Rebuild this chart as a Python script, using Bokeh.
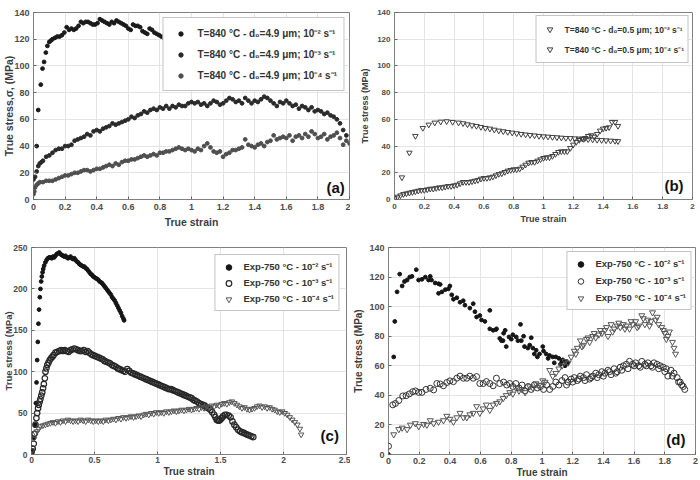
from bokeh.plotting import figure
from bokeh.layouts import column, row
from bokeh.models import Range1d, FixedTicker, NumeralTickFormatter, Label
from bokeh.embed import file_html
from bokeh.resources import INLINE

FONT = "Liberation Sans"

# ---------------- Panel (a): T=840 C, d0=4.9 um ----------------
a1_strain = [0.02,0.03,0.046,0.057,0.067,0.078,0.088,0.10,0.11,0.12,
             0.135,0.15,0.165,0.18,0.195,0.21,0.225,0.24,0.255,0.27,
             0.285,0.30,0.315,0.33,0.345,0.36,0.375,0.39,0.405,0.42,
             0.435,0.45,0.465,0.48,0.495,0.51,0.525,0.54,0.555,0.57,
             0.585,0.60,0.615,0.63,0.645,0.66,0.675,0.69,0.705,0.72,
             0.735,0.75,0.765,0.78,0.795,0.81,0.825,0.84,0.86,0.88,
             0.90,0.92,0.94]
a1_stress = [40,67,86,98,103,110,115,118,119,120,
             121,122,122,123,125,129,127,128,127,128,
             130,133,132,133,133,132,131,131,132,135,
             134,133,132,131,133,132,134,133,132,131,
             130,128,127,131,130,130,129,126,125,124,
             128,127,125,124,123,122,121,122,120,119,
             118,117,116]

a2_strain = [0.00,0.01,0.02,0.03,0.04,0.05,0.06,
             0.08,0.10,0.12,0.14,0.16,0.18,0.20,0.22,0.24,0.26,
             0.28,0.30,0.32,0.34,0.36,0.38,0.40,0.42,0.44,0.46,
             0.48,0.50,0.52,0.54,0.56,0.58,0.60,0.62,0.64,0.66,
             0.68,0.70,0.72,0.74,0.76,0.78,0.80,0.82,0.84,0.86,
             0.88,0.90,0.92,0.94,0.96,0.98,1.00,1.02,1.04,1.06,
             1.08,1.10,1.12,1.14,1.16,1.18,1.20,1.22,1.24,1.26,
             1.28,1.30,1.32,1.34,1.36,1.38,1.40,1.42,1.44,1.46,
             1.48,1.50,1.52,1.54,1.56,1.58,1.60,1.62,1.64,1.66,
             1.68,1.70,1.72,1.74,1.76,1.78,1.80,1.82,1.84,1.86,
             1.88,1.90,1.92,1.94,1.96,1.98]
a2_stress = [15,17,21,25,27,28,29,
             32,33,35,37,38,38,40,40,41,44,
             45,46,47,49,48,51,52,51,53,54,
             55,57,56,57,58,59,60,62,61,63,
             64,66,65,67,68,67,69,68,70,68,
             70,69,71,70,70,72,73,72,73,71,
             72,70,72,74,73,71,72,74,76,75,
             73,74,72,76,74,72,74,73,75,77,
             76,74,72,70,73,72,74,72,70,71,
             68,70,69,67,69,66,67,66,64,65,
             63,62,60,57,52,48]

a3_strain = [0.00,0.005,0.01,0.02,0.03,0.04,
             0.06,0.08,0.10,0.12,0.14,0.16,0.18,0.20,0.22,0.24,
             0.26,0.28,0.30,0.32,0.34,0.36,0.38,0.40,0.42,0.44,
             0.46,0.48,0.50,0.52,0.54,0.56,0.58,0.60,0.62,0.64,
             0.66,0.68,0.70,0.72,0.74,0.76,0.78,0.80,0.82,0.84,
             0.86,0.88,0.90,0.92,0.94,0.96,0.98,1.00,1.02,1.04,
             1.06,1.08,1.10,1.12,1.14,1.16,1.18,1.20,1.22,1.24,
             1.26,1.28,1.30,1.32,1.34,1.36,1.38,1.40,1.42,1.44,
             1.46,1.48,1.50,1.52,1.54,1.56,1.58,1.60,1.62,1.64,
             1.66,1.68,1.70,1.72,1.74,1.76,1.78,1.80,1.82,1.84,
             1.86,1.88,1.90,1.92,1.94,1.96,1.98,2.00]
a3_stress = [4,6,9,11,12,13,
             13,14,14,14,15,16,17,18,18,19,
             20,20,21,22,22,21,22,23,23,24,
             25,26,25,27,26,28,29,29,30,30,
             31,32,33,32,33,34,33,35,35,36,
             36,37,38,39,38,37,38,37,36,38,
             37,40,42,39,36,35,36,32,34,35,
             37,37,38,39,45,41,40,39,41,42,
             40,43,44,48,45,46,47,46,48,44,
             47,48,46,49,47,51,49,46,47,49,
             45,47,48,50,46,41,44,42]

# ---------------- Panel (b): T=840 C, d0=0.5 um ----------------
b1_strain = [0.05,0.10,0.14,0.19,0.23,0.27,0.31,0.35,0.39,0.43,
             0.46,0.49,0.52,0.55,0.58,0.61,0.64,0.67,0.70,0.73,
             0.76,0.79,0.82,0.85,0.88,0.91,0.94,0.97,1.00,1.03,
             1.06,1.09,1.12,1.15,1.18,1.21,1.24,1.27,1.30,1.33,
             1.36,1.39,1.42,1.45,1.48,1.50]
b1_stress = [16.5,35,47.5,53.5,56,57.5,58.2,58.5,58,57.5,
             57,56.2,55.5,55,54.2,53.5,53,52.2,51.5,51,
             50.5,50,49.5,49,48.6,48.2,47.9,47.5,47.2,47,
             46.7,46.5,46.2,46,45.9,45.7,45.5,45.2,45,44.8,
             44.6,44.4,44.2,44,43.8,43.6]

b2_strain = [0.00,0.02,0.04,0.06,0.08,0.10,0.12,0.14,0.16,0.18,
             0.20,0.22,0.24,0.26,0.28,0.30,0.32,0.34,0.36,0.38,
             0.40,0.42,0.44,0.46,0.48,0.50,0.52,0.54,0.56,0.58,
             0.60,0.62,0.64,0.66,0.68,0.70,0.72,0.74,0.76,0.78,
             0.80,0.82,0.84,0.86,0.88,0.90,0.92,0.94,0.96,0.98,
             1.00,1.02,1.04,1.06,1.08,1.10,1.12,1.14,1.16,1.18,
             1.20,1.22,1.24,1.26,1.28,1.30,1.32,1.34,1.36,1.38,
             1.40,1.42,1.44,1.46,1.48,1.50]
b2_stress = [1,2,3,4,4.5,5,5.5,6,6.5,7,
             7,7.5,8,8,8.5,9,9,9.5,10,10,
             10.5,11,12,13,13,13,13.5,14,14.5,15.5,
             16,16,16.5,17,18,19,19.5,20.5,21.5,22,
             22.5,22.5,23,24.5,26,27.5,28,28,29,30,
             31,31.5,31.5,32.5,34,35.5,36,36,36,38.5,
             41,43,44.5,45.5,46,47.5,48,47,49,51.5,
             53,53.5,54,58,58,55]

# ---------------- Panel (c): Exp-750 C ----------------
c1_strain = [0.005,0.01,0.02,0.03,0.035,0.04,0.045,0.05,0.055,0.06,
             0.066,0.071,0.077,0.082,0.088,0.093,0.10,0.11,0.12,0.13,
             0.14,0.15,0.16,0.17,0.18,0.19,0.20,0.21,0.22,0.23,
             0.24,0.25,0.26,0.27,0.28,0.29,0.30,0.31,0.32,0.33,
             0.34,0.35,0.36,0.37,0.38,0.39,0.40,0.41,0.42,0.43,
             0.44,0.45,0.46,0.47,0.48,0.49,0.50,0.51,0.52,0.53,
             0.54,0.55,0.56,0.57,0.58,0.59,0.60,0.61,0.62,0.63,
             0.64,0.65,0.66,0.67,0.68,0.69,0.70,0.71,0.72,0.73,
             0.735]
c1_stress = [3,5,20,36,62,87,114,136,158,175,
             190,200,209,215,220,224,228,232,235,237,
             238,238,237,239,238,240,242,243,244,242,
             241,240,239,240,238,237,238,239,237,236,
             237,235,233,232,230,229,228,227,227,225,
             224,222,220,218,217,215,214,213,212,211,
             209,208,207,205,203,201,199,197,195,193,
             190,188,186,183,180,177,174,171,167,164,
             162]

c2_strain = [0.0,0.01,0.018,0.025,0.032,0.039,0.045,0.052,0.058,0.065,
             0.071,0.078,0.085,0.092,0.098,0.106,0.111,0.118,0.125,0.135,
             0.145,0.155,0.165,0.175,0.19,0.205,0.22,0.235,0.25,0.265,
             0.28,0.295,0.31,0.325,0.34,0.355,0.37,0.385,0.40,0.415,
             0.43,0.445,0.46,0.475,0.49,0.505,0.52,0.535,0.55,0.565,
             0.58,0.595,0.61,0.625,0.64,0.655,0.67,0.685,0.70,0.715,
             0.73,0.745,0.76,0.775,0.79,0.805,0.82,0.835,0.85,0.865,
             0.88,0.895,0.91,0.925,0.94,0.955,0.97,0.985,1.00,1.015,
             1.03,1.045,1.06,1.075,1.09,1.105,1.12,1.135,1.15,1.165,
             1.18,1.195,1.21,1.225,1.24,1.255,1.27,1.285,1.30,1.315,
             1.33,1.345,1.36,1.375,1.39,1.405,1.42,1.435,1.45,1.46,
             1.47,1.48,1.49,1.50,1.51,1.52,1.535,1.55,1.565,1.58,
             1.595,1.61,1.625,1.64,1.655,1.67,1.685,1.70,1.715,1.73,
             1.745,1.76]
c2_stress = [3,7,13,25,36,44,50,56,60,64,
             67,71,75,80,85,92,100,104,108,111,
             114,116,118,120,123,124,125,126,125,126,
             125,124,126,127,128,127,126,125,125,126,
             124,125,123,121,120,119,118,117,116,115,
             113,112,111,110,108,107,106,104,103,102,
             101,100,103,101,99,98,97,96,95,94,
             93,92,91,90,89,88,87,86,85,84,
             83,82,81,80,79,79,78,77,76,75,
             74,73,72,71,70,69,68,66,65,64,
             62,61,60,59,57,56,54,51,48,45,
             42,41,41,42,44,46,48,48,47,45,
             40,36,33,30,28,27,26,25,24,23,
             22,21]

c3_strain = [0.005,0.018,0.032,0.045,0.058,0.071,0.09,0.11,0.13,0.15,
             0.17,0.19,0.21,0.23,0.25,0.27,0.29,0.31,0.33,0.35,
             0.37,0.39,0.41,0.43,0.45,0.47,0.49,0.51,0.53,0.55,
             0.57,0.59,0.61,0.63,0.65,0.67,0.69,0.71,0.73,0.75,
             0.77,0.79,0.81,0.83,0.85,0.87,0.89,0.91,0.93,0.95,
             0.97,0.99,1.01,1.03,1.05,1.07,1.09,1.11,1.13,1.15,
             1.17,1.19,1.21,1.23,1.25,1.27,1.29,1.31,1.33,1.35,
             1.37,1.39,1.41,1.43,1.45,1.47,1.49,1.51,1.53,1.55,
             1.57,1.59,1.61,1.63,1.65,1.67,1.69,1.71,1.73,1.75,
             1.77,1.79,1.81,1.83,1.85,1.87,1.89,1.91,1.93,1.95,
             1.97,1.99,2.01,2.03,2.05,2.07,2.09,2.11,2.13,2.14]
c3_stress = [5,19,26,28,31,34,35,36,37,38,
             39,38,40,39,41,40,42,41,40,41,
             40,42,41,40,42,41,40,41,40,41,
             40,42,41,42,43,42,44,43,45,44,
             45,46,45,46,47,46,48,49,48,50,
             49,51,50,51,50,52,51,52,53,52,
             53,54,53,54,55,54,55,56,55,57,
             56,58,57,59,58,60,59,61,62,61,
             63,64,62,60,58,56,57,55,54,55,
             56,58,59,57,58,56,57,55,54,52,
             51,52,50,48,45,42,39,36,31,24]

# ---------------- Panel (d): Exp-750 C ----------------
d1_strain = [0.0,0.034,0.041,0.056,0.073,0.089,0.104,0.121,0.138,0.153,
             0.181,0.196,0.218,0.24,0.261,0.272,0.28,0.304,0.326,0.337,
             0.326,0.348,0.37,0.39,0.40,0.412,0.423,0.445,0.466,0.487,
             0.498,0.53,0.552,0.563,0.574,0.595,0.606,0.628,0.66,0.66,
             0.682,0.704,0.725,0.736,0.70,0.746,0.767,0.76,0.785,0.81,
             0.832,0.843,0.86,0.865,0.886,0.908,0.93,0.94,0.962,0.984,
             1.005,1.027,1.049,1.07,1.09,1.11,1.135,1.157,1.167,
             0.75,0.80,0.88,0.92,0.95,0.97,1.01,1.04,1.08,1.12,
             1.15,1.13]
d1_stress = [0,66,90,110,122,114,117,118,120,120.5,
             125,118,118.5,120,118,120.5,118,116,115.5,115,
             109,110,111.5,112,114,108,105,106,103,104,
             101,99,102,96.6,93,94,91,90,97.5,85,
             84,85,78.5,77,84.5,77,73,84,79.5,81,
             79.5,77,88,77,73,72,79,72,70.5,68,
             73,68,67,66,66,65,64,63,62,
             82,78,80,74,68,66,70,65,62,61,
             60,63]

d2_strain = [0.0,0.028,0.045,0.067,0.093,0.115,0.136,0.158,0.176,0.197,
             0.218,0.244,0.272,0.294,0.315,0.337,0.358,0.38,0.40,0.423,
             0.445,0.466,0.488,0.51,0.53,0.552,0.574,0.595,0.617,0.638,
             0.66,0.682,0.703,0.725,0.75,0.77,0.79,0.81,0.83,0.85,
             0.87,0.89,0.91,0.93,0.95,0.97,0.99,1.01,1.03,1.05,
             1.07,1.09,1.11,1.13,1.15,1.17,1.19,1.21,1.23,1.25,
             1.27,1.29,1.31,1.33,1.35,1.37,1.39,1.41,1.43,1.45,
             1.47,1.49,1.51,1.53,1.55,1.57,1.59,1.61,1.63,1.65,
             1.67,1.69,1.71,1.73,1.75,1.77,1.79,1.81,1.82,1.84,
             1.86,1.88,1.90,1.92,1.93,
             1.16,1.20,1.24,1.28,1.32,1.36,1.40,1.44,1.48,1.52,
             1.56,1.60,1.64,1.68,1.72,1.76,1.80,1.85,1.89,1.91]
d2_stress = [5.6,33.6,34.5,36.5,39.6,39.8,41,42.5,43,42,
             42,44,44.8,43.7,48,47.7,46.5,48.7,49.8,49.3,
             51.6,53,51.6,51.6,53,51.6,52.7,48,48,49.3,
             48,46.5,51.6,48,49,47,48,46,48,45,
             47,43,46,44,47,45,46,44,47,44,
             46,49,47,50,52,49,51,52,50,53,
             52,54,51,53,55,54,56,55,57,54,
             58,56,59,60,61,63,61,62,60,63,
             61,62,60,62,61,60,59,58,53,57,
             55,52,49,46,44,
             47,49,51,50,52,52,53,56,55,57,
             58,60,59,60,59,58,56,53,49,47]

d3_strain = [0.034,0.067,0.089,0.121,0.143,0.175,0.197,0.229,0.25,0.272,
             0.294,0.326,0.358,0.38,0.40,0.423,0.445,0.466,0.488,0.51,
             0.53,0.552,0.574,0.595,0.617,0.638,0.66,0.682,0.704,0.725,
             0.747,0.767,0.79,0.81,0.83,0.85,0.87,0.89,0.92,0.94,
             0.96,0.98,1.005,1.02,1.05,1.07,1.09,1.11,1.13,1.15,
             1.17,1.19,1.21,1.23,1.25,1.27,1.29,1.31,1.33,1.35,
             1.37,1.39,1.41,1.43,1.45,1.47,1.49,1.51,1.53,1.55,
             1.57,1.59,1.61,1.63,1.65,1.67,1.69,1.71,1.72,1.74,
             1.76,1.78,1.80,1.82,1.83,1.85,1.86,1.87,
             1.22,1.26,1.30,1.34,1.38,1.42,1.46,1.50,1.54,1.58,
             1.62,1.66,1.70,1.75,1.79,1.81]
d3_stress = [13.5,17,18,17,20,21,19,20.5,20,23,
             21,22,23,26,24,22,25,28,25,25,
             27,28,32.5,28,31,33.6,30,33.6,34.7,35.8,
             38,40,42,41,45,43,44,42,46,45,
             48,47,50,49,57,53,55,58,60,63,
             62,66,70,72,77,74,78,76,80,79,
             81,82,84,80,88,85,87,86,88,87,
             85,88,90,87,94,88,91,90,96,91,
             88,86,82,80,83,76,72,68,
             68,73,79,82,84,86,83,89,85,90,
             86,92,87,93,84,78]

# tick values
ticks_02 = [0,0.2,0.4,0.6,0.8,1,1.2,1.4,1.6,1.8,2]
ticks_140 = [0,20,40,60,80,100,120,140]
ticks_c_x = [0,0.5,1,1.5,2,2.5]
ticks_c_y = [0,50,100,150,200,250]

LEG_A = ["T=840 \u00b0C - d\u2080=4.9 \u03bcm; 10\u207b\u00b2 s\u207b\u00b9",
         "T=840 \u00b0C - d\u2080=4.9 \u03bcm; 10\u207b\u00b3 s\u207b\u00b9",
         "T=840 \u00b0C - d\u2080=4.9 \u03bcm; 10\u207b\u2074 s\u207b\u00b9"]
LEG_B = ["T=840 \u00b0C - d\u2080=0.5 \u03bcm; 10\u207b\u00b2 s\u207b\u00b9",
         "T=840 \u00b0C - d\u2080=0.5 \u03bcm; 10\u207b\u2074 s\u207b\u00b9"]
LEG_E = ["Exp-750 \u00b0C - 10\u207b\u00b2 s\u207b\u00b9",
         "Exp-750 \u00b0C - 10\u207b\u00b3 s\u207b\u00b9",
         "Exp-750 \u00b0C - 10\u207b\u2074 s\u207b\u00b9"]


def make_fig(xr, yr, bl, br, bt, bb):
    p = figure(width=350, height=240,
               min_border_left=bl, min_border_right=br,
               min_border_top=bt, min_border_bottom=bb,
               x_range=Range1d(*xr), y_range=Range1d(*yr),
               output_backend="svg", toolbar_location=None)
    p.background_fill_color = "white"
    p.border_fill_color = "white"
    p.outline_line_color = "#808080"
    p.outline_line_width = 1
    p.outline_line_alpha = 1
    return p


def decorate(p, xticks, yticks, ylabel, tick_size, xlab_size, ylab_size,
             x_std, y_std, xlab_std, ylab_std):
    fmt = NumeralTickFormatter(format="0.[0]")
    p.xaxis.ticker = FixedTicker(ticks=xticks)
    p.yaxis.ticker = FixedTicker(ticks=yticks)
    p.xgrid.ticker = FixedTicker(ticks=xticks)
    p.ygrid.ticker = FixedTicker(ticks=yticks)
    p.grid.grid_line_color = "#e4e4e4"
    p.grid.grid_line_width = 1
    for ax in (p.xaxis[0], p.yaxis[0]):
        ax.formatter = fmt
        ax.axis_line_color = None
        ax.major_tick_in = 3
        ax.major_tick_out = 0
        ax.major_tick_line_color = "#666666"
        ax.minor_tick_line_color = None
        ax.major_label_text_font = FONT
        ax.major_label_text_font_style = "bold"
        ax.major_label_text_font_size = tick_size
        ax.major_label_text_color = "#4d4d4d"
        ax.axis_label_text_font = FONT
        ax.axis_label_text_font_style = "bold"
        ax.axis_label_text_color = "#3d3d3d"
    p.xaxis.axis_label = "True strain"
    p.yaxis.axis_label = ylabel
    p.xaxis.axis_label_text_font_size = xlab_size
    p.yaxis.axis_label_text_font_size = ylab_size
    p.xaxis.major_label_standoff = x_std
    p.yaxis.major_label_standoff = y_std
    p.xaxis.axis_label_standoff = xlab_std
    p.yaxis.axis_label_standoff = ylab_std


def style_legend(p, font_size, label_h, glyph_h, spacing, padding, margin, glyph_w, standoff):
    lg = p.legend[0]
    lg.location = "top_right"
    lg.label_text_font = FONT
    lg.label_text_font_style = "bold"
    lg.label_text_font_size = font_size
    lg.label_text_color = "#333333"
    lg.label_height = label_h
    lg.glyph_height = glyph_h
    lg.glyph_width = glyph_w
    lg.label_standoff = standoff
    lg.spacing = spacing
    lg.padding = padding
    lg.margin = margin
    lg.border_line_color = "#8a8a8a"
    lg.border_line_width = 1
    lg.background_fill_color = "white"
    lg.background_fill_alpha = 1.0


def panel_label(p, x, y, text):
    p.add_layout(Label(x=x, y=y, text=text, text_font=FONT, text_font_style="bold",
                       text_font_size="15px", text_color="#111111",
                       text_align="right", text_baseline="bottom"))


# ---------- (a) ----------
pa = make_fig((0, 2), (0, 140), 32, 1, 12, 41)
pa.scatter(a1_strain, a1_stress, marker="circle", size=3.8, color="#1a1a1a", legend_label=LEG_A[0])
pa.scatter(a2_strain, a2_stress, marker="circle", size=3.8, color="#2a2a2a", legend_label=LEG_A[1])
pa.scatter(a3_strain, a3_stress, marker="circle", size=3.8, color="#4f4f4f", legend_label=LEG_A[2])
decorate(pa, ticks_02, ticks_140, "True stress,\u03c3, (MPa)", "9px", "10.5px", "10.5px", 4, 4, 3, -4)
style_legend(pa, "10px", 18, 11, 3, 6, 5, 22, 6)
panel_label(pa, 1.97, 2.5, "(a)")

# ---------- (b) ----------
pb = make_fig((0, 2), (0, 140), 44, 8, 11, 37)
pb.scatter(b1_strain, b1_stress, marker="inverted_triangle", size=5.5, line_color="#404040",
           fill_color=None, line_width=1, legend_label=LEG_B[0])
pb.scatter(b2_strain, b2_stress, marker="inverted_triangle", size=5.5, line_color="#404040",
           fill_color=None, line_width=1, legend_label=LEG_B[1])
decorate(pb, ticks_02, ticks_140, "True stress (MPa)", "8px", "9px", "9px", 4, 4, 2, 4)
style_legend(pb, "8.5px", 18, 14, 2, 4, 3, 18, 6)
panel_label(pb, 1.94, 4.4, "(b)")

# ---------- (c) ----------
pc = make_fig((0, 2.5), (0, 250), 31, 4, 2, 24)
pc.scatter(c1_strain, c1_stress, marker="circle", size=3.8, color="#151515", legend_label=LEG_E[0])
pc.scatter(c2_strain, c2_stress, marker="circle", size=5.5, line_color="#262626",
           fill_color=None, line_width=1.2, legend_label=LEG_E[1])
pc.scatter(c3_strain, c3_stress, marker="inverted_triangle", size=5.5, line_color="#555555",
           fill_color=None, line_width=1, legend_label=LEG_E[2])
decorate(pc, ticks_c_x, ticks_c_y, "True stress (MPa)", "8.5px", "10px", "9.5px", 2, 4, 0, -4)
style_legend(pc, "9.5px", 15, 14, 1, 4, 7, 18, 6)
panel_label(pc, 2.44, 12.8, "(c)")

# ---------- (d) ----------
pd_ = make_fig((0, 2), (0, 140), 38, 5, 7, 25)
pd_.scatter(d1_strain, d1_stress, marker="circle", size=3.8, color="#151515", legend_label=LEG_E[0])
pd_.scatter(d2_strain, d2_stress, marker="circle", size=6, line_color="#333333",
            fill_color=None, line_width=1, legend_label=LEG_E[1])
pd_.scatter(d3_strain, d3_stress, marker="inverted_triangle", size=6, line_color="#555555",
            fill_color=None, line_width=1, legend_label=LEG_E[2])
decorate(pd_, ticks_02, ticks_140, "True stress (MPa)", "9px", "10px", "10px", 3, 4, 0, 2)
style_legend(pd_, "9.5px", 15, 14, 2, 4, 4, 18, 6)
panel_label(pd_, 1.935, 4.7, "(d)")

layout = column(row(pa, pb), row(pc, pd_))
open("out.html", "w").write(file_html(layout, INLINE))
